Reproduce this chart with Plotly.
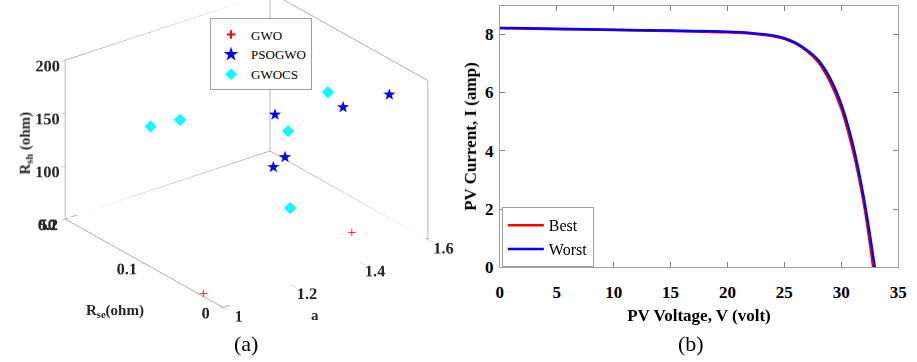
import plotly.graph_objects as go

# ---------------- Panel (a) data ----------------
gwo_a = [1.00, 1.40]
gwo_rse = [0.025, 0.01]
gwo_rsh = [53, 74]

pso_a = [1.383, 1.536, 1.579, 1.366, 1.378]
pso_rse = [0.10, 0.08, 0.04, 0.08, 0.10]
pso_rsh = [150, 149, 173, 120, 101]

cs_a = [1.065, 1.151, 1.538, 1.375, 1.335]
cs_rse = [0.12, 0.12, 0.10, 0.08, 0.06]
cs_rsh = [164, 161, 154, 143, 83]

a_range = [1.0, 1.6]
rse_range = [0.0, 0.2]
rsh_range = [50, 200]
a_ticks = [1, 1.2, 1.4, 1.6]
rse_ticks = [0, 0.1, 0.2]
rsh_ticks = [50, 100, 150, 200]

# ---------------- Panel (b) data ----------------
v_best = [0, 5, 10, 15, 20, 22, 24, 25, 26, 27, 28, 29, 30, 31, 32, 32.8]
i_best = [8.21, 8.17, 8.14, 8.11, 8.06, 8.02, 7.93, 7.84, 7.67, 7.41, 7.03, 6.38, 5.45, 4.05, 2.15, 0]
v_worst = [0, 5, 10, 15, 20, 22, 24, 25, 26, 27, 28, 29, 30, 31, 32, 32.95]
i_worst = [8.21, 8.18, 8.15, 8.12, 8.08, 8.04, 7.95, 7.86, 7.70, 7.45, 7.10, 6.50, 5.60, 4.25, 2.35, 0]

SERIF = "Liberation Serif"
GRAY = "#a0a0a0"

fig = go.Figure()

# box edges of the 3D panel (from axis ranges)
x0, x1 = a_range
y0, y1 = rse_range
z0, z1 = rsh_range
edges = [
    ((x0, y0, z0), (x1, y0, z0)),
    ((x0, y0, z0), (x0, y1, z0)),
    ((x0, y1, z0), (x1, y1, z0)),
    ((x1, y0, z0), (x1, y1, z0)),
    ((x0, y1, z0), (x0, y1, z1)),
    ((x1, y0, z0), (x1, y0, z1)),
    ((x1, y1, z0), (x1, y1, z1)),
    ((x0, y1, z1), (x1, y1, z1)),
    ((x1, y0, z1), (x1, y1, z1)),
]
ex, ey, ez = [], [], []
for p, q in edges:
    ex += [p[0], q[0], None]
    ey += [p[1], q[1], None]
    ez += [p[2], q[2], None]
fig.add_trace(go.Scatter3d(x=ex, y=ey, z=ez, mode="lines",
                           line=dict(color=GRAY, width=1.5),
                           showlegend=False, hoverinfo="skip", scene="scene"))

fig.add_trace(go.Scatter3d(x=gwo_a, y=gwo_rse, z=gwo_rsh, mode="markers",
                           marker=dict(symbol="cross", size=4, color="red"),
                           showlegend=False, scene="scene"))
fig.add_trace(go.Scatter3d(x=cs_a, y=cs_rse, z=cs_rsh, mode="markers",
                           marker=dict(symbol="diamond", size=4, color="cyan"),
                           showlegend=False, scene="scene"))
fig.add_trace(go.Scatter3d(x=pso_a, y=pso_rse, z=pso_rsh, mode="text",
                           text=["★"] * len(pso_a), textposition="middle center",
                           textfont=dict(color="blue", size=16, family="DejaVu Sans"),
                           showlegend=False, scene="scene"))

# legend entries for panel (a)
fig.add_trace(go.Scatter(x=[None], y=[None], mode="markers", name="GWO",
                         marker=dict(symbol="cross-thin", size=6, color="red",
                                     line=dict(color="red", width=2)),
                         legend="legend"))
fig.add_trace(go.Scatter(x=[None], y=[None], mode="markers", name="PSOGWO",
                         marker=dict(symbol="star", size=11, color="blue"),
                         legend="legend"))
fig.add_trace(go.Scatter(x=[None], y=[None], mode="markers", name="GWOCS",
                         marker=dict(symbol="diamond", size=9, color="cyan"),
                         legend="legend"))

# panel (b)
fig.add_trace(go.Scatter(x=v_best, y=i_best, mode="lines", name="Best",
                         line=dict(color="red", width=2.5, shape="spline"),
                         legend="legend2"))
fig.add_trace(go.Scatter(x=v_worst, y=i_worst, mode="lines", name="Worst",
                         line=dict(color="blue", width=2.5, shape="spline"),
                         legend="legend2"))


def axis3d(rng, ticks, tlen=4):
    return dict(
        title=dict(text=""),
        range=rng, autorange=False,
        tickvals=ticks, ticktext=["<b>%g</b>" % t for t in ticks],
        tickfont=dict(family=SERIF, size=14, color="#262626"),
        tickangle=0,
        showgrid=False, showbackground=False, showline=False,
        zeroline=False, showspikes=False,
        ticks="outside", ticklen=tlen, tickcolor=GRAY,
    )


S = 1.47
fig.update_layout(
    width=917, height=362,
    margin=dict(l=0, r=0, t=0, b=0),
    paper_bgcolor="white", plot_bgcolor="white",
    showlegend=True,
    scene=dict(
        domain=dict(x=[0.0, 0.536], y=[0.0, 1.0]),
        xaxis=axis3d(a_range, a_ticks),
        yaxis=axis3d(rse_range, rse_ticks, tlen=8),
        zaxis=axis3d(rsh_range, rsh_ticks),
        aspectmode="manual", aspectratio=dict(x=S, y=S, z=0.68 * S),
        camera=dict(eye=dict(x=-0.5686 * 2, y=-0.7384 * 2, z=0.3625 * 2),
                    center=dict(x=0, y=0, z=-0.165),
                    up=dict(x=0, y=0, z=1),
                    projection=dict(type="orthographic")),
    ),
    xaxis=dict(domain=[503 / 917, 907 / 917], range=[0, 35], dtick=5, tick0=0,
               ticks="inside", ticklen=5, tickcolor="#808080",
               showline=True, linecolor="#a0a0a0", linewidth=1, mirror="ticks",
               showgrid=False, zeroline=False, ticklabelstandoff=9,
               tickfont=dict(family=SERIF, size=17, color="black", weight="bold"),
               title=dict(text="PV Voltage, V (volt)", standoff=8,
                          font=dict(family=SERIF, size=17, color="black", weight="bold"))),
    yaxis=dict(domain=[1 - 275 / 362, 1 - 6 / 362], range=[0, 8.97], dtick=2, tick0=0,
               ticks="inside", ticklen=5, tickcolor="#808080",
               showline=True, linecolor="#a0a0a0", linewidth=1, mirror="ticks",
               showgrid=False, zeroline=False, ticklabelstandoff=2,
               tickfont=dict(family=SERIF, size=17, color="black", weight="bold"),
               title=dict(text="PV Current, I (amp)", standoff=4,
                          font=dict(family=SERIF, size=17, color="black", weight="bold"))),
    legend=dict(x=209 / 917, y=1 - 19 / 362, xanchor="left", yanchor="top",
                bgcolor="white", bordercolor="#a0a0a0", borderwidth=1,
                font=dict(family=SERIF, size=13, color="black"),
                itemwidth=30, tracegroupgap=0),
    legend2=dict(x=505 / 917, y=1 - 244 / 362, xanchor="left", yanchor="middle",
                 bgcolor="white", bordercolor="#a0a0a0", borderwidth=1,
                 font=dict(family=SERIF, size=16, color="black"),
                 itemwidth=36, tracegroupgap=0),
    annotations=[
        dict(text="<b>R<sub>sh</sub> (ohm)</b>", x=22 / 917, y=1 - 147 / 362,
             xref="paper", yref="paper", xanchor="center", yanchor="middle",
             textangle=-90, showarrow=False,
             font=dict(family=SERIF, size=15, color="#262626")),
        dict(text="<b>R<sub>se</sub>(ohm)</b>", x=113 / 917, y=1 - 320 / 362,
             xref="paper", yref="paper", xanchor="center", yanchor="middle",
             showarrow=False, font=dict(family=SERIF, size=15, color="#262626")),
        dict(text="<b>a</b>", x=315 / 917, y=1 - 324 / 362,
             xref="paper", yref="paper", xanchor="center", yanchor="middle",
             showarrow=False, font=dict(family=SERIF, size=15, color="#262626")),
        dict(text="(a)", x=245 / 917, y=1 - 353 / 362, xref="paper", yref="paper",
             xanchor="center", yanchor="middle",
             showarrow=False, font=dict(family=SERIF, size=22, color="black")),
        dict(text="(b)", x=697 / 917, y=1 - 353 / 362, xref="paper", yref="paper",
             xanchor="center", yanchor="middle",
             showarrow=False, font=dict(family=SERIF, size=22, color="black")),
    ],
)

fig.write_html("out.html")
